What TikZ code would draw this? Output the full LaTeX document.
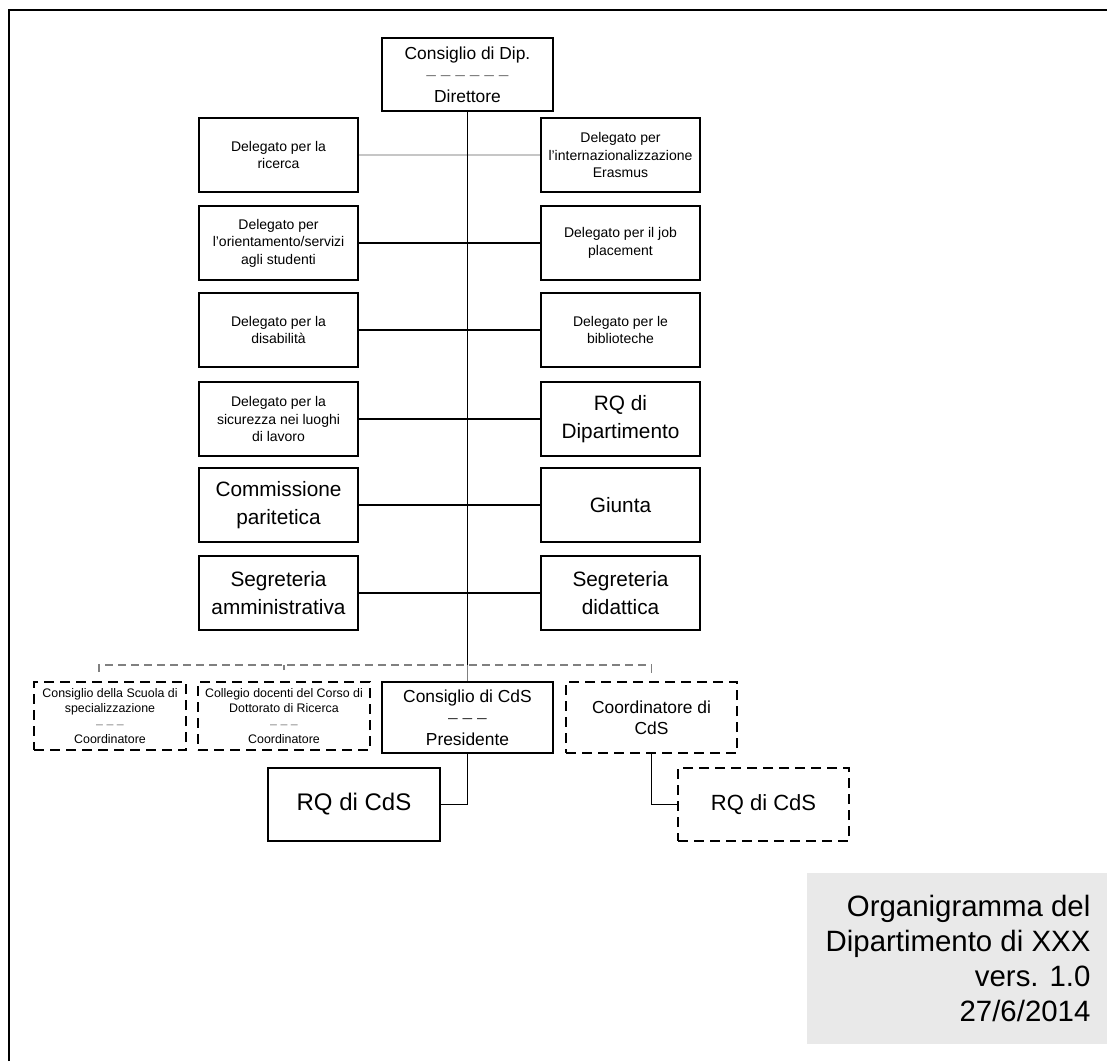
\documentclass[tikz,border=0pt]{standalone}
\usepackage{fontspec}
\setmainfont{Liberation Sans}

\begin{document}
\begin{tikzpicture}[x=0.5pt,y=-0.5pt,
  box/.style={draw,line width=1pt,minimum width=79.5pt,minimum height=37pt,align=center,inner sep=1pt},
  dbox/.style={box,dash pattern=on 5pt off 3pt},
  deleg/.style={font=\fontsize{7}{8.7}\selectfont},
  big/.style={font=\fontsize{10.4}{14}\selectfont},
  mini/.style={font=\fontsize{6.2}{7.6}\selectfont},
  mid/.style={font=\fontsize{8.7}{10.7}\selectfont},
  link/.style={line width=0.6pt},
  bus/.style={gray,line width=0.6pt,dash pattern=on 4pt off 2.5pt}]
  \useasboundingbox (0,0) rectangle (1107,1061);
  \draw[line width=1pt] (8.5,1061) -- (8.5,10) -- (1107,10);

  % top
  \node[box,mid,line width=0.8pt,minimum width=85.5pt,minimum height=36.5pt] (dip) at (467.5,74.5)
    {Consiglio di Dip.\\\textcolor{gray}{– – – – – –}\\Direttore};

  % delegati, left and right
  \node[box,deleg] (l1) at (278.5,155) {Delegato per la\\ricerca};
  \node[box,deleg] (r1) at (620.5,155) {Delegato per\\l'internazionalizzazione\\Erasmus};
  \node[box,deleg] (l2) at (278.5,243) {Delegato per\\l'orientamento/servizi\\agli studenti};
  \node[box,deleg] (r2) at (620.5,243) {Delegato per il job\\placement};
  \node[box,deleg] (l3) at (278.5,330) {Delegato per la\\disabilità};
  \node[box,deleg] (r3) at (620.5,330) {Delegato per le\\biblioteche};
  \node[box,deleg] (l4) at (278.5,419) {Delegato per la\\sicurezza nei luoghi\\di lavoro};
  \node[box,big]   (r4) at (620.5,419) {RQ di\\Dipartimento};
  \node[box,big]   (l5) at (278.5,505) {Commissione\\paritetica};
  \node[box,big]   (r5) at (620.5,505) {Giunta};
  \node[box,big]   (l6) at (278.5,593) {Segreteria\\amministrativa};
  \node[box,big]   (r6) at (620.5,593) {Segreteria\\didattica};

  \draw[link,gray!45] (l1) -- (r1);
  \foreach \i in {2,...,6}{\draw[link] (l\i) -- (r\i);}

  % corsi di studio
  \node[dbox,mini,minimum width=76pt,minimum height=34pt] (scuola) at (110,716)
    {Consiglio della Scuola di\\specializzazione\\\textcolor{gray}{– – –}\\Coordinatore};
  \node[dbox,mini,minimum width=86pt,minimum height=34pt] (dott) at (284,716)
    {Collegio docenti del Corso di\\Dottorato di Ricerca\\\textcolor{gray}{– – –}\\Coordinatore};
  \node[box,mid,line width=0.8pt,minimum width=85.5pt,minimum height=35.5pt] (cds) at (467.5,717.5)
    {Consiglio di CdS\\\textcolor{darkgray}{– – –}\\Presidente};
  \node[dbox,mid,minimum width=85.5pt,minimum height=35.5pt] (coord) at (651.5,717.5)
    {Coordinatore di\\CdS};
  \node[box,font=\fontsize{12}{14}\selectfont,minimum width=86pt,minimum height=36.5pt] (rqa) at (354,804.5) {RQ di CdS};
  \node[dbox,font=\fontsize{11}{13}\selectfont,minimum width=85.5pt,minimum height=36.5pt] (rqb) at (763.5,804.5) {RQ di CdS};

  \coordinate (bus) at (467.5,665);
  \coordinate (t1) at (99,672);
  \coordinate (t2) at (284,670);
  \coordinate (t4) at (651.5,675);
  \draw[bus] (t1) |- (t4 |- bus) -- (t4);
  \draw[bus] (t2) -- (t2 |- bus);
  \draw[link] (dip) -- (bus);
  \draw[link,gray] (bus) -- (cds);
  \draw[link] (cds.south) |- (rqa.east);
  \draw[link] (coord.south) |- (rqb.west);

  % cartiglio
  \node[fill=gray!17,minimum width=150pt,minimum height=85.5pt,anchor=north west,inner sep=0pt] (title) at (807,873) {};
  \node[anchor=east,align=right,inner sep=0pt,font=\fontsize{14.7}{17.5}\selectfont] (info) at ([xshift=-8.5pt]title.east)
    {Organigramma del\\Dipartimento di XXX\\vers. 1.0\\27/6/2014};
\end{tikzpicture}
\end{document}
